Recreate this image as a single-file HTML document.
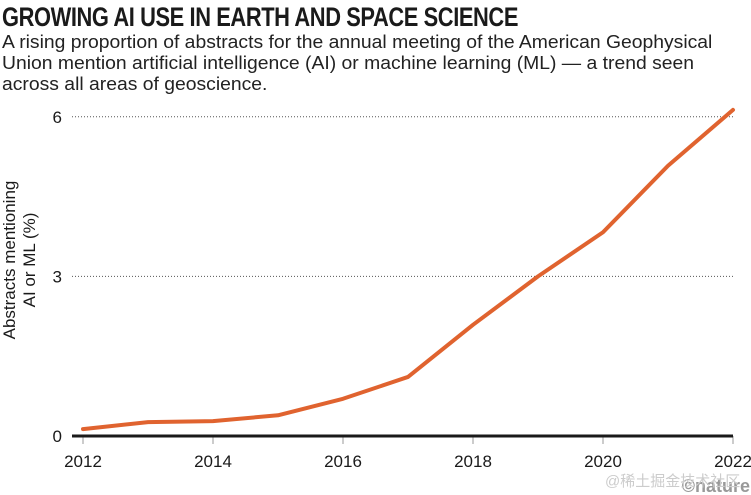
<!DOCTYPE html>
<html><head><meta charset="utf-8"><style>
body{margin:0;width:751px;height:495px;background:#fff;overflow:hidden;font-family:"Liberation Sans",sans-serif;color:#1a1a1a;position:relative}
#title{position:absolute;left:2px;top:2px;font-size:27px;font-weight:bold;letter-spacing:-0.5px;white-space:nowrap;transform-origin:0 0;transform:scaleX(0.81);line-height:30px}
#sub{position:absolute;left:2px;top:31px;font-size:18.5px;line-height:21px;white-space:nowrap;color:#222;transform-origin:0 0;transform:scaleX(1.045)}
svg{position:absolute;left:0;top:0}
</style></head><body>
<div id="title">GROWING AI USE IN EARTH AND SPACE SCIENCE</div>
<div id="sub">A rising proportion of abstracts for the annual meeting of the American Geophysical<br>Union mention artificial intelligence (AI) or machine learning (ML) — a trend seen<br>across all areas of geoscience.</div>
<svg id="chart" width="751" height="495"></svg>
<script>
const years=[2012,2013,2014,2015,2016,2017,2018,2019,2020,2021,2022];
const values=[0.13,0.26,0.28,0.39,0.70,1.11,2.09,3.0,3.83,5.08,6.13];
const yTicks=[0,3,6];
const xTicks=[2012,2014,2016,2018,2020,2022];
const NS="http://www.w3.org/2000/svg";
const svg=document.getElementById('chart');
const x=v=>83+(v-2012)*65;
const y=v=>436-v*53.2;
function mk(t,a){const e=document.createElementNS(NS,t);for(const k in a)e.setAttribute(k,a[k]);svg.appendChild(e);return e;}
yTicks.forEach(t=>{
  if(t>0){const g=mk('line',{x1:72,x2:733,y1:y(t),y2:y(t),stroke:'#555','stroke-width':1,'stroke-dasharray':'1,2'});
  
  }
  const l=mk('text',{x:62,y:y(t)+6,'text-anchor':'end','font-size':17,fill:'#1a1a1a'});
  l.textContent=t;
  
  
});
xTicks.forEach(t=>{
  const tk=mk('line',{x1:x(t),x2:x(t),y1:436,y2:444,stroke:'#999','stroke-width':1});
  
  
  const l=mk('text',{x:x(t),y:467,'text-anchor':'middle','font-size':17,fill:'#1a1a1a'});
  l.textContent=t;
  
  
});
const ax=mk('line',{x1:72,x2:733,y1:436,y2:436,stroke:'#1a1a1a','stroke-width':3});


const yt=mk('text',{transform:'translate(17,260) rotate(-90)','text-anchor':'middle','font-size':17,fill:'#1a1a1a'});


const t1=document.createElementNS(NS,'tspan');t1.setAttribute('x',0);t1.setAttribute('dy',-2);t1.textContent='Abstracts mentioning';yt.appendChild(t1);
const t2=document.createElementNS(NS,'tspan');t2.setAttribute('x',0);t2.setAttribute('dy',20);t2.textContent='AI or ML (%)';yt.appendChild(t2);
const line=mk('polyline',{points:years.map((yr,i)=>x(yr)+','+y(values[i])).join(' '),fill:'none',stroke:'#e0632f','stroke-width':4,'stroke-linejoin':'round','stroke-linecap':'round'});


const c=mk('text',{x:750,y:492,'text-anchor':'end','font-size':18,'font-weight':'bold',fill:'#999'});
c.textContent='©nature';


const w=mk('text',{x:605,y:486,'font-size':15,fill:'#ccc','font-family':'"Liberation Sans","Noto Sans CJK SC",sans-serif'});
w.textContent='@稀土掘金技术社区';


</script>
</body></html>
